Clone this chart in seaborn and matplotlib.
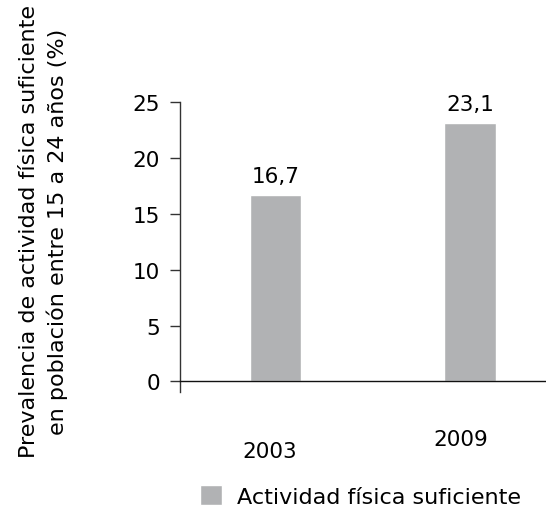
import matplotlib
matplotlib.use("Agg")
import matplotlib.pyplot as plt
import matplotlib.transforms as mtransforms
import seaborn as sns

years = ["2003", "2009"]
values = [16.7, 23.1]
value_labels = ["16,7", "23,1"]
legend_label = "Actividad física suficiente"
ylabel = "Prevalencia de actividad física suficiente\nen población entre 15 a 24 años (%)"
yticks = [0, 5, 10, 15, 20, 25]

sns.set_style("white")
plt.rcParams["font.family"] = ["DejaVu Sans"]
plt.rcParams["font.size"] = 16
plt.rcParams["text.color"] = "black"
plt.rcParams["xtick.color"] = "black"
plt.rcParams["ytick.color"] = "black"
plt.rcParams["axes.labelcolor"] = "black"

fig = plt.figure(figsize=(5.46, 5.10), dpi=100)
ax = fig.add_axes([180 / 546, (510 - 393) / 510, 1 - 180 / 546, (393 - 103) / 510])

bar_color = "#b1b2b4"
sns.barplot(x=years, y=values, color=bar_color, width=0.263, ax=ax, saturation=1)

ax.set_ylim(-0.95, 25)
ax.set_xlim(-0.49, 1.39)
ax.set_yticks(yticks)
ax.set_yticklabels([str(t) for t in yticks], fontsize=15.5)

for s in ["top", "right"]:
    ax.spines[s].set_visible(False)
ax.spines["bottom"].set_position(("data", 0))
ax.spines["left"].set_color("#333333")
ax.spines["bottom"].set_color("#111111")
ax.spines["left"].set_linewidth(1)
ax.spines["bottom"].set_linewidth(1)

ax.tick_params(axis="y", length=7.5, width=1, color="#333333", pad=7, left=True)
ax.tick_params(axis="x", length=0, pad=34, labelsize=15.5)

# los años no quedan a la misma altura en el original
shifts = [(-6, -12), (-9, 0)]
for lbl, (dx, dy) in zip(ax.get_xticklabels(), shifts):
    off = mtransforms.ScaledTranslation(dx / 100, dy / 100, fig.dpi_scale_trans)
    lbl.set_transform(lbl.get_transform() + off)

ax.bar_label(ax.containers[0], labels=value_labels, padding=6.5, fontsize=15.5)

ax.set_xlabel("")
ax.set_ylabel(ylabel, fontsize=16, linespacing=1.4, multialignment="center")
ax.yaxis.set_label_coords(68 / 546, 1 - 232 / 510, transform=fig.transFigure)

fig.legend(handles=[ax.patches[0]], labels=[legend_label],
           loc="lower left", bbox_to_anchor=(200 / 546, 2 / 510),
           frameon=False, fontsize=16, handlelength=1.0, handleheight=1.0,
           handletextpad=0.65, borderpad=0, borderaxespad=0)

fig.savefig("out.png", dpi=100)
